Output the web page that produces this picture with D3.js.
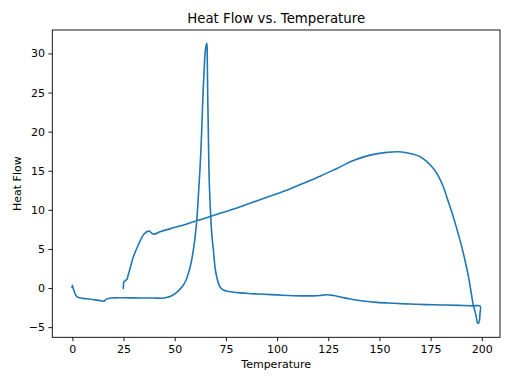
<!DOCTYPE html>
<html>
<head>
<meta charset="utf-8">
<script src="https://cdn.jsdelivr.net/npm/d3@7"></script>
<style>
  body { margin: 0; background: #fff; }
  svg { font-family: "DejaVu Sans", sans-serif; }
</style>
</head>
<body>
<svg id="chart" width="512" height="384"></svg>
<script>
// heating run, dip at the turn, then the cooling run back down
var temperature = [
  -0.2, 0.0, 0.3, 0.8, 1.5, 2.2, 3.0, 4.0, 6.0, 8.0, 10, 12, 14, 15.2, 15.8, 16.5, 17.5, 19, 22, 26, 30, 35, 40, 43, 46, 48, 50, 52, 54, 55.5,
  56.7, 58, 59.1, 60, 60.8, 61.6, 62.4, 63.2, 63.7, 64.3, 64.9, 65.4, 65.7, 65.9, 66.1, 66.4, 66.9, 67.6, 68.2, 68.9, 69.7, 70.5, 71.5, 72.5,
  73.8, 75.5, 78, 82, 86, 91.7, 100, 108, 117.7, 121, 124.3, 127.5, 131, 135.7, 142, 148.7, 157, 165, 173, 181.2, 189, 195.9, 199.2,
  199.1, 198.9, 198.5, 198.0, 197.6, 197.0, 196.5, 195.9, 194.7, 193.5, 192, 190.2, 188.2, 186.1, 183.6, 181.2, 178.8, 176.4, 173, 169.9,
  165, 159.3, 153.6, 145.4, 137.3, 129.2, 121, 112, 104.7, 96, 88.4, 80, 72.2, 64, 56, 48, 42.8, 39.9, 38.8, 37.5, 36.3, 34.7, 32.2, 29.8,
  28.4, 27.4, 26.6, 25.7, 25.2, 24.9
];
var heatFlow = [
  0.0, 0.35, 0.05, -0.35, -0.85, -1.1, -1.2, -1.27, -1.35, -1.4, -1.47, -1.55, -1.62, -1.68, -1.62, -1.45, -1.35, -1.28, -1.25, -1.25, -1.26, -1.27, -1.28, -1.3, -1.2, -1.05, -0.75, -0.3, 0.3, 1.0,
  1.88, 3.2, 4.86, 6.6, 8.7, 12, 15.5, 20.2, 24, 27.5, 30.2, 31.1, 31.3, 29.5, 25, 20.2, 13.4, 9.1, 6.6, 4.86, 2.6, 1.45, 0.5, 0.0,
  -0.26, -0.4, -0.5, -0.62, -0.7, -0.77, -0.88, -0.98, -1.0, -0.95, -0.85, -0.95, -1.15, -1.41, -1.65, -1.83, -1.95, -2.05, -2.12, -2.17, -2.22, -2.28, -2.3,
  -3.3, -4.1, -4.45, -4.5, -4.1, -3.3, -2.8, -2.26, -0.4, 1.45, 3.3, 5.3, 7.2, 9.1, 11.1, 12.95, 14.3, 15.3, 16.2, 16.8,
  17.2, 17.43, 17.35, 17.0, 16.3, 15.3, 14.3, 13.3, 12.5, 11.7, 11.0, 10.2, 9.55, 8.85, 8.2, 7.6, 7.2, 6.9, 7.0, 7.3, 7.2, 6.8, 5.5, 4.0,
  2.7, 1.8, 1.1, 0.95, 0.8, -0.17
];
var xTicks = [0, 25, 50, 75, 100, 125, 150, 175, 200];
var yTicks = [-5, 0, 5, 10, 15, 20, 25, 30];

var svg = d3.select('#chart'),
    plotL = 52.3, plotR = 500, plotT = 30, plotB = 337.3;

var x = d3.scaleLinear().domain([-9.8, 208.9]).range([plotL, plotR]);
var y = d3.scaleLinear().domain([-6.3, 33.0]).range([plotB, plotT]);

var points = temperature.map(function(t, i){ return [t, heatFlow[i]]; });

svg.append('path')
  .datum(points)
  .attr('fill', 'none')
  .attr('stroke', '#1f77b4')
  .attr('stroke-width', 1.6)
  .attr('stroke-linejoin', 'round')
  .attr('d', d3.line()
    .curve(d3.curveCatmullRom.alpha(0.5))
    .x(function(d){ return x(d[0]); })
    .y(function(d){ return y(d[1]); }));

var xAxis = svg.append('g').attr('transform', 'translate(0,' + plotB + ')')
  .call(d3.axisBottom(x).tickValues(xTicks).tickSize(3.9).tickPadding(3.5));
var yAxis = svg.append('g').attr('transform', 'translate(' + plotL + ',0)')
  .call(d3.axisLeft(y).tickValues(yTicks).tickSize(3.9).tickPadding(3.5));

[xAxis, yAxis].forEach(function(a){
  a.select('.domain').remove();
  a.selectAll('line').attr('stroke', '#000').attr('stroke-width', 0.9);
  a.selectAll('text').attr('fill', '#000').style('font-size', '11px').style('font-family', '"DejaVu Sans", sans-serif');
});

// frame
svg.append('rect')
  .attr('x', plotL).attr('y', plotT)
  .attr('width', plotR - plotL).attr('height', plotB - plotT)
  .attr('fill', 'none').attr('stroke', '#000').attr('stroke-width', 0.9);

svg.append('text')
  .attr('x', (plotL + plotR) / 2).attr('y', 23)
  .attr('text-anchor', 'middle').style('font-size', '13.3px')
  .text('Heat Flow vs. Temperature');

svg.append('text')
  .attr('x', (plotL + plotR) / 2).attr('y', 368)
  .attr('text-anchor', 'middle').style('font-size', '11px')
  .text('Temperature');

svg.append('text')
  .attr('transform', 'translate(21,' + ((plotT + plotB) / 2) + ')rotate(-90)')
  .attr('text-anchor', 'middle').style('font-size', '11px')
  .text('Heat Flow');
</script>
</body>
</html>
